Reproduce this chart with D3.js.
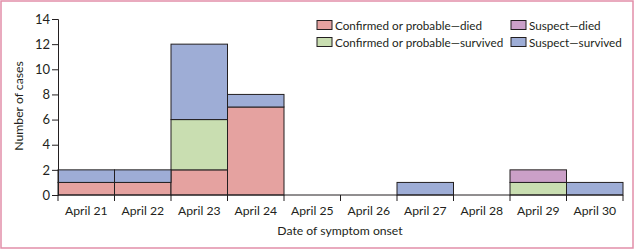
<!DOCTYPE html>
<html>
<head>
<meta charset="utf-8">
<script src="https://cdn.jsdelivr.net/npm/d3@7"></script>
<style>
  html, body { margin: 0; padding: 0; background: #fff; }
  svg text { font-family: Lato, sans-serif; fill: #231f20; }
</style>
</head>
<body>
<svg id="chart" width="635" height="251"></svg>
<script>
(function () {
  'use strict';

  /* Data */
  var days = ['April 21', 'April 22', 'April 23', 'April 24', 'April 25',
              'April 26', 'April 27', 'April 28', 'April 29', 'April 30'];
  var confDied     = [1, 1, 2, 7, 0, 0, 0, 0, 0, 0];
  var confSurvived = [0, 0, 4, 0, 0, 0, 0, 0, 1, 0];
  var suspDied     = [0, 0, 0, 0, 0, 0, 0, 0, 1, 0];
  var suspSurvived = [1, 1, 6, 1, 0, 0, 1, 0, 0, 1];
  var seriesNames  = ['Confirmed or probable\u2014died', 'Confirmed or probable\u2014survived',
                      'Suspect\u2014died', 'Suspect\u2014survived'];
  var seriesColors = ['#e5a2a0', '#c9deb1', '#cba0c8', '#9eadd6'];
  var yTicks = [0, 2, 4, 6, 8, 10, 12, 14];

  var rows = days.map(function (d, i) {
    return { day: d, s0: confDied[i], s1: confSurvived[i], s2: suspDied[i], s3: suspSurvived[i] };
  });
  var keys = ['s0', 's1', 's2', 's3'];

  var svg = d3.select('#chart');
  var left = 58, right = 623, top = 19, bottom = 195;
  var fs = '12.2px';

  var x = d3.scaleBand().domain(days).range([left, right]).padding(0);
  var y = d3.scaleLinear().domain([0, 14]).range([bottom, top]);

  /* frame */
  svg.append('rect')
    .attr('x', 1).attr('y', 1).attr('width', 632).attr('height', 247)
    .attr('fill', 'none').attr('stroke', '#e28ea9').attr('stroke-width', 1.5);

  /* bars */
  var stacked = d3.stack().keys(keys)(rows);
  stacked.forEach(function (layer, k) {
    svg.append('g').selectAll('rect')
      .data(layer.filter(function (d) { return d[1] - d[0] > 0; }))
      .enter().append('rect')
      .attr('x', function (d) { return x(d.data.day); })
      .attr('y', function (d) { return y(d[1]); })
      .attr('width', x.bandwidth())
      .attr('height', function (d) { return y(d[0]) - y(d[1]); })
      .attr('fill', seriesColors[k])
      .attr('stroke', '#231f20').attr('stroke-width', 1);
  });

  /* y axis */
  var yAxis = d3.axisLeft(y).tickValues(yTicks).tickSize(6).tickPadding(2);
  var gy = svg.append('g').attr('transform', 'translate(' + left + ',0)').call(yAxis);
  gy.selectAll('text').style('font-size', '13px').style('font-family', 'Lato, sans-serif');
  gy.select('.domain').attr('stroke', '#231f20');
  gy.selectAll('line').attr('stroke', '#231f20');

  /* x axis: ticks at band boundaries */
  var gx = svg.append('g');
  gx.append('line')
    .attr('x1', left).attr('x2', right).attr('y1', y(0)).attr('y2', y(0))
    .attr('stroke', '#231f20');
  var bounds = days.map(function (d) { return x(d); }).concat([right]);
  gx.selectAll('line.tk').data(bounds).enter().append('line').attr('class', 'tk')
    .attr('x1', function (d) { return d; }).attr('x2', function (d) { return d; })
    .attr('y1', y(0)).attr('y2', y(0) + 6)
    .attr('stroke', '#231f20');
  gx.selectAll('text').data(days).enter().append('text')
    .attr('x', function (d) { return x(d) + x.bandwidth() / 2; })
    .attr('y', 215)
    .attr('text-anchor', 'middle')
    .style('font-size', fs)
    .text(function (d) { return d; });

  /* axis titles */
  svg.append('text')
    .attr('x', 340).attr('y', 235)
    .attr('text-anchor', 'middle').style('font-size', fs)
    .text('Date of symptom onset');
  svg.append('text')
    .attr('transform', 'translate(23,' + 106 + ') rotate(-90)')
    .attr('text-anchor', 'middle').style('font-size', fs)
    .text('Number of cases');

  /* legend */
  var legendPos = [[317, 25], [317, 42], [511, 25], [511, 42]];
  var lg = svg.append('g');
  seriesNames.forEach(function (name, i) {
    var p = legendPos[i];
    lg.append('rect')
      .attr('x', p[0]).attr('y', p[1] - 4.5).attr('width', 15).attr('height', 9)
      .attr('fill', seriesColors[i]).attr('stroke', '#231f20').attr('stroke-width', 1);
    lg.append('text')
      .attr('x', p[0] + 18).attr('y', p[1] + 4.5)
      .style('font-size', '11.7px')
      .text(name);
  });
})();
</script>
</body>
</html>
